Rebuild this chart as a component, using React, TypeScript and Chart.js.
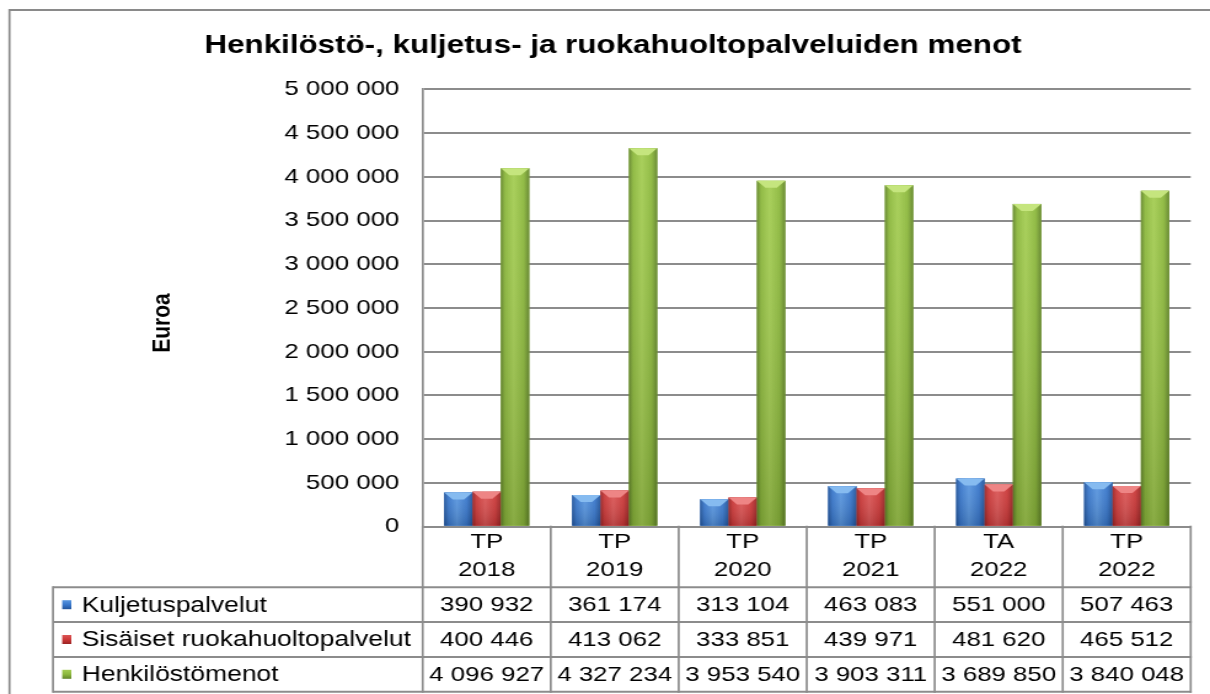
import React, { useEffect, useRef } from 'react';
import { Chart, registerables } from 'chart.js';

Chart.register(...registerables);

// ---- data ----
const chartTitle = 'Henkilöstö-, kuljetus- ja ruokahuoltopalveluiden menot';
const yAxisTitle = 'Euroa';
const categoryTypes = ['TP', 'TP', 'TP', 'TP', 'TA', 'TP'];
const categoryYears = ['2018', '2019', '2020', '2021', '2022', '2022'];
const seriesNames = ['Kuljetuspalvelut', 'Sisäiset ruokahuoltopalvelut', 'Henkilöstömenot'];
const kuljetuspalvelut = [390932, 361174, 313104, 463083, 551000, 507463];
const sisaisetRuokahuolto = [400446, 413062, 333851, 439971, 481620, 465512];
const henkilostomenot = [4096927, 4327234, 3953540, 3903311, 3689850, 3840048];
const yMin = 0;
const yMax = 5000000;
const yStep = 500000;

// ---- styling ----
const CANVAS_W = 984;
const CANVAS_H = 694;
const SX = 1210 / CANVAS_W; // horizontal stretch of the reference picture
const FONT = '"Liberation Sans", Arial, sans-serif';
const GRID = '#8c8c8c';
const palettes = [
  { edge: '#22549a', main: '#3877cc', light: '#5896e0', top: '#86bbf0' },
  { edge: '#9a2424', main: '#cc3838', light: '#dc5555', top: '#ee8585' },
  { edge: '#62852a', main: '#8cb83c', light: '#a4cd52', top: '#c5e57e' },
];

const fmt = (v: number) => String(Math.round(v)).replace(/\B(?=(\d{3})+(?!\d))/g, ' ');

const tablePlugin = {
  id: 'dataTable',
  beforeDraw(chart: any) {
    const ctx = chart.ctx;
    ctx.save();
    ctx.fillStyle = '#ffffff';
    ctx.fillRect(0, 0, chart.width, chart.height);
    ctx.strokeStyle = '#8a8a8a';
    ctx.lineWidth = 2;
    ctx.beginPath();
    ctx.moveTo(7, 10);
    ctx.lineTo(chart.width, 10);
    ctx.stroke();
    ctx.lineWidth = 1.7;
    ctx.beginPath();
    ctx.moveTo(7.7, 9);
    ctx.lineTo(7.7, chart.height);
    ctx.stroke();
    // title
    ctx.fillStyle = '#000';
    ctx.font = `bold 25.5px ${FONT}`;
    ctx.textAlign = 'center';
    ctx.textBaseline = 'middle';
    ctx.fillText(chartTitle, 498.5, 46);
    ctx.restore();
  },
  afterDatasetsDraw(chart: any) {
    const ctx = chart.ctx;
    ctx.save();
    chart.data.datasets.forEach((_ds: any, di: number) => {
      const meta = chart.getDatasetMeta(di);
      const p = palettes[di];
      meta.data.forEach((el: any) => {
        const { x, y, base, width } = el.getProps(['x', 'y', 'base', 'width'], true);
        const l = x - width / 2;
        const r = x + width / 2;
        const t = Math.min(y, base);
        const b = Math.max(y, base);
        const g = ctx.createLinearGradient(l, 0, r, 0);
        g.addColorStop(0, p.edge);
        g.addColorStop(0.15, p.main);
        g.addColorStop(0.45, p.light);
        g.addColorStop(0.8, p.main);
        g.addColorStop(1, p.edge);
        ctx.fillStyle = g;
        ctx.fillRect(l, t, r - l, b - t);
        const vg = ctx.createLinearGradient(0, t, 0, b);
        vg.addColorStop(0, 'rgba(255,255,255,0.06)');
        vg.addColorStop(1, 'rgba(0,0,0,0.16)');
        ctx.fillStyle = vg;
        ctx.fillRect(l, t, r - l, b - t);
        const bh = Math.min(7, (b - t) / 2);
        const bw = width * 0.3;
        ctx.fillStyle = p.top;
        ctx.beginPath();
        ctx.moveTo(l, t);
        ctx.lineTo(r, t);
        ctx.lineTo(r - bw, t + bh);
        ctx.lineTo(l + bw, t + bh);
        ctx.closePath();
        ctx.fill();
      });
    });
    ctx.restore();
  },
  afterDraw(chart: any) {
    const ctx = chart.ctx;
    const area = chart.chartArea;
    const xs = chart.scales.x;
    const n = chart.data.labels.length;
    const colW = (area.right - area.left) / n;
    const top = area.bottom;
    const headerBottom = top + 60.6;
    const rowH = 34.8;
    const bottom = headerBottom + rowH * 3;
    const tableLeft = 53 / SX;
    ctx.save();
    ctx.strokeStyle = GRID;
    // horizontal lines
    ctx.lineWidth = 2;
    for (let k = 0; k <= 3; k++) {
      const yy = headerBottom + k * rowH;
      ctx.beginPath();
      ctx.moveTo(tableLeft, yy);
      ctx.lineTo(area.right + 0.8, yy);
      ctx.stroke();
    }
    // vertical lines
    ctx.lineWidth = 1.7;
    for (let i = 0; i <= n; i++) {
      const xx = area.left + i * colW;
      ctx.beginPath();
      ctx.moveTo(xx, top - 1);
      ctx.lineTo(xx, bottom + 1);
      ctx.stroke();
    }
    ctx.beginPath();
    ctx.moveTo(tableLeft, headerBottom - 1);
    ctx.lineTo(tableLeft, bottom + 1);
    ctx.stroke();

    // header labels
    ctx.fillStyle = '#000';
    ctx.font = `21px ${FONT}`;
    ctx.textAlign = 'center';
    ctx.textBaseline = 'middle';
    for (let i = 0; i < n; i++) {
      const cx = xs.getPixelForValue(i);
      const lbl = chart.data.labels[i];
      ctx.fillText(lbl[0], cx, top + 15.5);
      ctx.fillText(lbl[1], cx, top + 43.8);
    }
    // rows
    chart.data.datasets.forEach((ds: any, di: number) => {
      const cy = headerBottom + rowH * (di + 0.5);
      const p = palettes[di];
      // legend key
      const kx = 50.6;
      const kw = 7.4;
      const kh = 9;
      const kg = ctx.createLinearGradient(0, cy - kh / 2, 0, cy + kh / 2);
      kg.addColorStop(0, p.light);
      kg.addColorStop(0.5, p.main);
      kg.addColorStop(1, p.edge);
      ctx.fillStyle = kg;
      ctx.fillRect(kx, cy - kh / 2, kw, kh);
      ctx.fillStyle = '#000';
      ctx.textAlign = 'left';
      ctx.font = `21.5px ${FONT}`;
      ctx.fillText(ds.label, 66.4, cy + 1);
      ctx.font = `21px ${FONT}`;
      ctx.textAlign = 'center';
      ds.data.forEach((v: number, i: number) => {
        ctx.fillText(fmt(v), xs.getPixelForValue(i), cy + 1);
      });
    });
    // y axis title
    ctx.save();
    ctx.translate(163 / SX, 323);
    ctx.rotate(-Math.PI / 2);
    ctx.font = `bold 21px ${FONT}`;
    ctx.textAlign = 'center';
    ctx.textBaseline = 'middle';
    ctx.fillText(yAxisTitle, 0, 0);
    ctx.restore();
    ctx.restore();
  },
};

export default function App() {
  const ref = useRef<HTMLCanvasElement | null>(null);
  useEffect(() => {
    if (!ref.current) return;
    const labels = categoryTypes.map((t, i) => [t, categoryYears[i]]);
    const seriesData = [kuljetuspalvelut, sisaisetRuokahuolto, henkilostomenot];
    const chart = new Chart(ref.current, {
      type: 'bar',
      data: {
        labels,
        datasets: seriesNames.map((name, i) => ({
          label: name,
          data: seriesData[i],
          backgroundColor: palettes[i].main,
          borderWidth: 0,
          categoryPercentage: 0.665,
          barPercentage: 1.0,
        })),
      },
      options: {
        responsive: false,
        maintainAspectRatio: false,
        animation: false,
        devicePixelRatio: 1,
        layout: {
          padding: { left: 0, right: CANVAS_W - 1190.7 / SX, top: 89.3, bottom: CANVAS_H - 526.7 },
        },
        plugins: {
          legend: { display: false },
          title: { display: false },
          tooltip: { enabled: false },
        },
        scales: {
          x: { display: false, offset: true },
          y: {
            min: yMin,
            max: yMax,
            ticks: {
              stepSize: yStep,
              color: '#000',
              font: { family: FONT, size: 21 },
              padding: 19,
              callback: (v: any) => fmt(Number(v)),
            },
            grid: { color: GRID, lineWidth: 2, drawTicks: false },
            border: { color: GRID, width: 1.7 },
            afterFit: (s: any) => {
              s.width = 422.7 / SX;
            },
          },
        },
      },
      plugins: [tablePlugin],
    } as any);
    return () => chart.destroy();
  }, []);
  return (
    <div style={{ position: 'fixed', left: 0, top: 0, width: 1210, height: 694, background: '#fff' }}>
      <canvas
        ref={ref}
        width={CANVAS_W}
        height={CANVAS_H}
        style={{ width: '1210px', height: '694px', display: 'block' }}
      />
    </div>
  );
}
